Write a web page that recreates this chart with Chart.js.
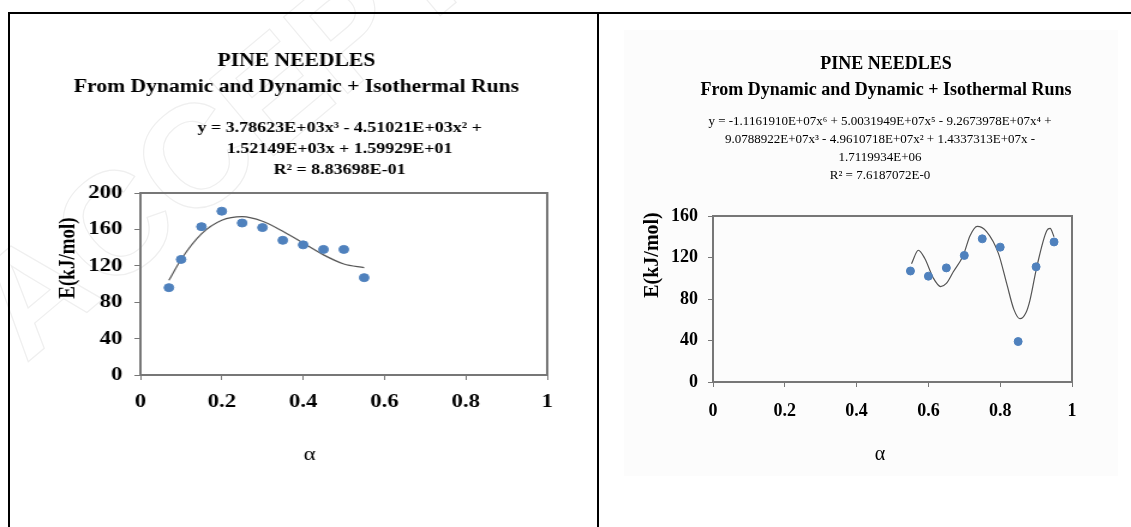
<!DOCTYPE html>
<html>
<head>
<meta charset="utf-8">
<script src="https://cdn.jsdelivr.net/npm/chart.js@4.4.1/dist/chart.umd.min.js"></script>
<style>
  body { margin: 0; width: 1131px; height: 527px; overflow: hidden; background: #fff; position: relative; }
  #frame { position: absolute; left: 8px; top: 12px; width: 1200px; height: 600px; border: 2px solid #000; }
  #divider { position: absolute; left: 597px; top: 12px; width: 2px; height: 600px; background: #000; }
  #shade { position: absolute; left: 624px; top: 30px; width: 494px; height: 446px; background: #fcfcfc; }
  #mark { position: absolute; z-index: 0; left: -60px; top: 262px; font: bold 145px "Liberation Sans", sans-serif;
          color: transparent; -webkit-text-stroke: 1.2px #efefef; transform: rotate(-40deg);
          transform-origin: 0 0; white-space: nowrap; }
  #left { position: absolute; z-index: 2; left: 0; top: 0; transform: scaleX(1.2); transform-origin: 0 0; }
  #right { position: absolute; z-index: 2; left: 600px; top: 0; }
</style>
</head>
<body>
<div id="shade"></div>
<div id="mark">ACCEPTED MANUSCRIPT</div>
<div id="frame"></div>
<div id="divider"></div>
<canvas id="left" width="498" height="527"></canvas>
<canvas id="right" width="531" height="527"></canvas>
<script>
// values
const xTicks = [0, 0.2, 0.4, 0.6, 0.8, 1];
const yTicksA = [0, 40, 80, 120, 160, 200];
const yTicksB = [0, 40, 80, 120, 160];

// left panel: alpha up to 0.55
const alphaA = [0.07, 0.10, 0.15, 0.20, 0.25, 0.30, 0.35, 0.40, 0.45, 0.50, 0.55];
const energyA = [96, 127, 163, 180, 167, 162, 148, 143, 138, 138, 107];
const fitAlphaA = [0.07, 0.10, 0.15, 0.20, 0.25, 0.30, 0.35, 0.40, 0.45, 0.50, 0.55];
const fitEnergyA = [104, 127, 155, 170, 174, 169, 158, 145, 132, 122, 118];

// right panel: alpha from 0.55
const alphaB = [0.55, 0.60, 0.65, 0.70, 0.75, 0.80, 0.85, 0.90, 0.95];
const energyB = [107, 102, 110, 122, 138, 130, 39, 111, 135];
const fitAlphaB = [0.553, 0.572, 0.59, 0.614, 0.634, 0.65, 0.669, 0.697, 0.716, 0.736, 0.762, 0.795, 0.818, 0.838, 0.855, 0.872, 0.883, 0.902, 0.93, 0.939, 0.95];
const fitEnergyB = [114, 127, 119, 100, 92, 95, 106, 122, 141, 150, 145, 124, 95, 70, 61, 67, 79, 111, 146, 148, 140];

const titleLines = ['PINE NEEDLES', 'From Dynamic and Dynamic + Isothermal Runs'];
const eqA = ['y = 3.78623E+03x³ - 4.51021E+03x² +', '1.52149E+03x + 1.59929E+01', 'R² = 8.83698E-01'];
const eqB = ['y = -1.1161910E+07x⁶ + 5.0031949E+07x⁵ - 9.2673978E+07x⁴ +',
             '9.0788922E+07x³ - 4.9610718E+07x² + 1.4337313E+07x -',
             '1.7119934E+06', 'R² = 7.6187072E-0'];

const serif = '"Liberation Serif", "Times New Roman", serif';

// titles, trendline label, axis titles and the plot frame
const panelText = {
  id: 'panelText',
  beforeDatasetsDraw(chart, args, opts) {
    const a = chart.chartArea, ctx = chart.ctx;
    ctx.save();
    ctx.strokeStyle = opts.frame;
    ctx.lineWidth = 2;
    ctx.strokeRect(a.left, a.top, a.right - a.left, a.bottom - a.top);
    ctx.restore();
  },
  afterDraw(chart, args, opts) {
    const ctx = chart.ctx;
    ctx.save();
    ctx.fillStyle = '#000';
    ctx.textAlign = 'center';
    ctx.textBaseline = 'middle';
    opts.items.forEach(it => {
      ctx.font = it.font;
      it.lines.forEach((line, i) => {
        const y = it.y + i * (it.step || 0);
        if (it.rotate) {
          ctx.save();
          ctx.translate(it.x, y);
          ctx.rotate(-Math.PI / 2);
          ctx.fillText(line, 0, 0);
          ctx.restore();
        } else {
          ctx.fillText(line, it.x, y);
        }
      });
    });
    ctx.restore();
  }
};

function points(xs, ys) {
  return xs.map((x, i) => ({ x: x, y: ys[i] }));
}

function makeChart(id, o) {
  const tickFont = { family: serif, size: o.tickSize, weight: 'bold' };
  return new Chart(document.getElementById(id), {
    type: 'scatter',
    data: {
      datasets: [{
        data: points(o.fitX, o.fitY),
        showLine: true,
        borderColor: '#555',
        borderWidth: 1.2,
        pointRadius: 0,
        cubicInterpolationMode: 'monotone',
        order: 2
      }, {
        data: points(o.x, o.y),
        pointRadius: 4,
        pointBackgroundColor: '#4F81BD',
        pointBorderColor: '#4F81BD',
        order: 1
      }]
    },
    plugins: [panelText],
    options: {
      responsive: false,
      animation: false,
      layout: { padding: o.padding },
      plugins: {
        legend: { display: false },
        tooltip: { enabled: false },
        panelText: { frame: '#777', items: o.texts }
      },
      scales: {
        x: {
          type: 'linear', min: 0, max: 1,
          afterBuildTicks: s => { s.ticks = xTicks.map(v => ({ value: v })); },
          afterFit: s => { s.height = 50; },
          border: { color: '#777', width: 2 },
          grid: { drawOnChartArea: false, tickLength: 5, color: '#777' },
          ticks: { font: tickFont, color: '#000', padding: o.xPad, maxRotation: 0, callback: v => String(v) }
        },
        y: {
          min: 0, max: o.yTicks[o.yTicks.length - 1],
          afterBuildTicks: s => { s.ticks = o.yTicks.map(v => ({ value: v })); },
          afterFit: s => { s.width = 60; },
          border: { color: '#777', width: 2 },
          grid: { drawOnChartArea: false, tickLength: 5, color: '#777' },
          ticks: { font: tickFont, color: '#000', padding: 10 }
        }
      }
    }
  });
}

makeChart('left', {
  x: alphaA, y: energyA, fitX: fitAlphaA, fitY: fitEnergyA,
  yTicks: yTicksA, tickSize: 19, xPad: 11,
  padding: { left: 57, right: 42, top: 193, bottom: 102 },
  texts: [
    { lines: titleLines, x: 247, y: 61, step: 26, font: 'bold 18px ' + serif },
    { lines: eqA, x: 283, y: 128, step: 21, font: 'bold 15px ' + serif },
    { lines: ['E(kJ/mol)'], x: 57, y: 258, rotate: true, font: 'bold 19px ' + serif },
    { lines: ['α'], x: 258, y: 455, font: '19px ' + serif }
  ]
});

makeChart('right', {
  x: alphaB, y: energyB, fitX: fitAlphaB, fitY: fitEnergyB,
  yTicks: yTicksB, tickSize: 18, xPad: 14,
  padding: { left: 53, right: 59, top: 216, bottom: 95 },
  texts: [
    { lines: titleLines, x: 286, y: 64, step: 26, font: 'bold 18px ' + serif },
    { lines: eqB, x: 280, y: 122, step: 17.7, font: '13px ' + serif },
    { lines: ['E(kJ/mol)'], x: 53, y: 255, rotate: true, font: 'bold 20px ' + serif },
    { lines: ['α'], x: 280, y: 455, font: '20px ' + serif }
  ]
});
</script>
</body>
</html>
